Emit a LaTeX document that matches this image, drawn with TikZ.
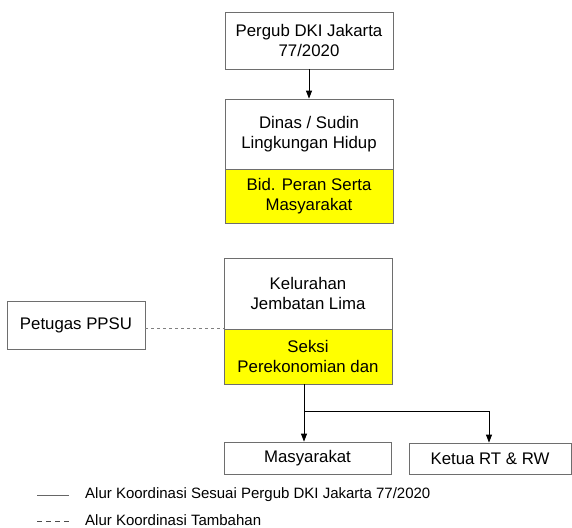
\documentclass[tikz,border=0pt]{standalone}
\usepackage{fontspec}
\setmainfont{Liberation Sans}
\usepackage{xcolor}
\usepackage{tikz}
\usetikzlibrary{arrows.meta}
\definecolor{boxyellow}{RGB}{255,255,0}
\definecolor{boxline}{RGB}{110,110,110}

\begin{document}
\begin{tikzpicture}[x=1pt, y=-1pt,
        box/.style={draw=boxline, line width=0.8pt, fill=white, align=center, inner sep=0pt,
            font=\fontsize{16.8}{20.5}\selectfont},
        hilite/.style={box, fill=boxyellow},
        flow/.style={line width=0.9pt, -{Triangle[length=8pt, width=6pt]}},
        extra/.style={line width=0.8pt, gray, dash pattern=on 3pt off 3pt},
        legendtext/.style={anchor=west, inner sep=0pt, font=\fontsize{15}{17}\selectfont}]
        \useasboundingbox (0,0) rectangle (572,527);
        \pgfmathsetmacro{\boxwidth}{168}
        \node [box, minimum width=\boxwidth, minimum height=57] (pergub) at (309, 40.5) {Pergub DKI Jakarta\\77/2020};
        \node [box, minimum width=\boxwidth, minimum height=70] (dinas) at (309, 134) {Dinas / Sudin\\Lingkungan Hidup};
        \node [hilite, minimum width=\boxwidth, minimum height=54] (bid) at (309, 196) {Bid. Peran Serta\\Masyarakat};
        \node [box, minimum width=\boxwidth, minimum height=71] (kel) at (308, 293.5) {Kelurahan\\Jembatan Lima};
        \node [hilite, minimum width=\boxwidth, minimum height=55] (seksi) at (308, 356.5) {Seksi\\Perekonomian dan};
        \node [box, minimum width=138, minimum height=48] (ppsu) at (76, 325) {Petugas PPSU};
        \node [box, minimum width=167, minimum height=32] (masy) at (307.5, 458) {Masyarakat};
        \node [box, minimum width=162, minimum height=31] (ketua) at (490, 458.5) {Ketua RT \& RW};
        \draw [flow] (pergub.south) -- (dinas.north);
        \draw [extra] (ppsu.east |- seksi.north west) -- (seksi.north west);
        \coordinate (drop) at ([xshift=-4pt]seksi.south);
        \coordinate (split) at (drop |- 0, 411);
        \draw [flow] (drop) -- (drop |- masy.north);
        \draw [flow] (split) -| ([xshift=-1pt]ketua.north);
        \coordinate (solidA) at (37, 495);
        \coordinate (solidB) at (69, 495);
        \coordinate (dashA) at (37, 521);
        \coordinate (dashB) at (69, 521);
        \draw [line width=0.6pt, black!60] (solidA) -- (solidB);
        \draw [line width=0.8pt, black!70, dash pattern=on 5pt off 4pt] (dashA) -- (dashB);
        \node [legendtext] (legsolid) at (85, 495) {Alur Koordinasi Sesuai Pergub DKI Jakarta 77/2020};
        \node [legendtext] (legdash) at (85, 520) {Alur Koordinasi Tambahan};
    \end{tikzpicture}
\end{document}
